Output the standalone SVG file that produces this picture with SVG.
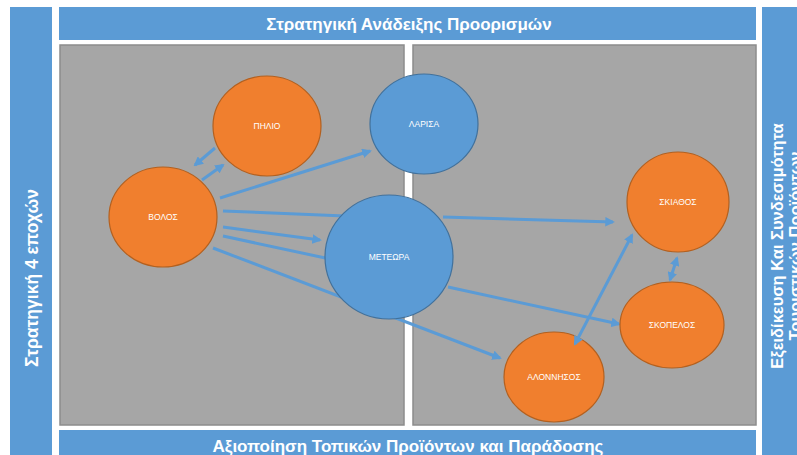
<svg xmlns="http://www.w3.org/2000/svg" width="797" height="455" viewBox="0 0 797 455">
<defs>
<style>
.bar{fill:#5B9BD5;}
.panel{fill:#A6A6A6;stroke:#8C8C8C;stroke-width:1.5;}
.hdr{font-family:"Liberation Sans",Arial,sans-serif;font-weight:bold;fill:#FFFFFF;text-anchor:middle;}
.orange{fill:#F07F2E;stroke:#B3601F;stroke-width:1.2;}
.blue{fill:#5B9BD5;stroke:#41719C;stroke-width:1.2;}
.lbl{font-family:"Liberation Sans",Arial,sans-serif;font-size:8.5px;fill:#FFFFFF;text-anchor:middle;}
.con{stroke:#5B9BD5;stroke-width:3;fill:none;}
.arr{marker-end:url(#ah);}
.dbl{marker-start:url(#ah);marker-end:url(#ah);}
</style>
<marker id="ah" viewBox="0 0 10 10" refX="8" refY="5" markerWidth="3.2" markerHeight="3.2" orient="auto-start-reverse" markerUnits="strokeWidth">
<path d="M0,0 L10,5 L0,10 z" fill="#5B9BD5"/>
</marker>
</defs>
<rect width="797" height="455" fill="#FFFFFF"/>
<g id="left-bar">
<rect class="bar" x="10" y="7" width="42" height="448"/>
<text class="hdr" font-size="17.5" transform="translate(38,278) rotate(-90)">Στρατηγική 4 εποχών</text>
</g>
<g id="top-bar">
<rect class="bar" x="59" y="7" width="697" height="33"/>
<text class="hdr" font-size="17" x="409" y="30">Στρατηγική Ανάδειξης Προορισμών</text>
</g>
<g id="right-bar">
<rect class="bar" x="762" y="7" width="40" height="448"/>
<text class="hdr" font-size="16.5" transform="translate(783,246) rotate(-90)">Εξειδίκευση Και Συνδεσιμότητα</text>
<text class="hdr" font-size="16.5" transform="translate(801,246) rotate(-90)">Τουριστικών Προϊόντων</text>
</g>
<g id="bottom-bar">
<rect class="bar" x="59" y="430" width="697" height="30"/>
<text class="hdr" font-size="17" font-weight="normal" x="408" y="452">Αξιοποίηση Τοπικών Προϊόντων  και Παράδοσης</text>
</g>
<g id="panels">
<rect class="panel" x="60" y="45" width="344" height="380"/>
<rect class="panel" x="413" y="45" width="343" height="380"/>
</g>
<g id="alonnisos">
<ellipse class="orange" cx="554" cy="377" rx="50" ry="45"/>
<text class="lbl" x="554" y="380">ΑΛΟΝΝΗΣΟΣ</text>
</g>
<g id="connectors">
<line class="con arr" x1="202" y1="180" x2="223" y2="165"/>
<line class="con arr" x1="215" y1="148" x2="195" y2="165"/>
<line class="con arr" x1="220" y1="198" x2="370" y2="151"/>
<line class="con" x1="223" y1="211" x2="345" y2="216"/>
<line class="con arr" x1="223" y1="227" x2="320" y2="240"/>
<line class="con" x1="223" y1="236" x2="330" y2="259"/>
<line class="con arr" x1="213" y1="248" x2="500" y2="358"/>
<line class="con arr" x1="443" y1="217" x2="613" y2="222"/>
<line class="con arr" x1="448" y1="287" x2="619" y2="324"/>
<line class="con dbl" x1="575" y1="344" x2="632" y2="235"/>
<line class="con dbl" x1="670" y1="280" x2="677" y2="258"/>
</g>
<g id="pilio">
<ellipse class="orange" cx="267" cy="126" rx="54" ry="50"/>
<text class="lbl" x="267" y="129">ΠΗΛΙΟ</text>
</g>
<g id="larisa">
<ellipse class="blue" cx="424" cy="124" rx="54" ry="50"/>
<text class="lbl" x="424" y="127">ΛΑΡΙΣΑ</text>
</g>
<g id="volos">
<ellipse class="orange" cx="163" cy="217" rx="54" ry="50"/>
<text class="lbl" x="163" y="220">ΒΟΛΟΣ</text>
</g>
<g id="meteora">
<ellipse class="blue" cx="389" cy="257" rx="64" ry="62"/>
<text class="lbl" x="389" y="260">ΜΕΤΕΩΡΑ</text>
</g>
<g id="skiathos">
<ellipse class="orange" cx="678" cy="202" rx="51" ry="50"/>
<text class="lbl" x="678" y="205">ΣΚΙΑΘΟΣ</text>
</g>
<g id="skopelos">
<ellipse class="orange" cx="672" cy="325" rx="52" ry="43"/>
<text class="lbl" x="672" y="328">ΣΚΟΠΕΛΟΣ</text>
</g>
</svg>
